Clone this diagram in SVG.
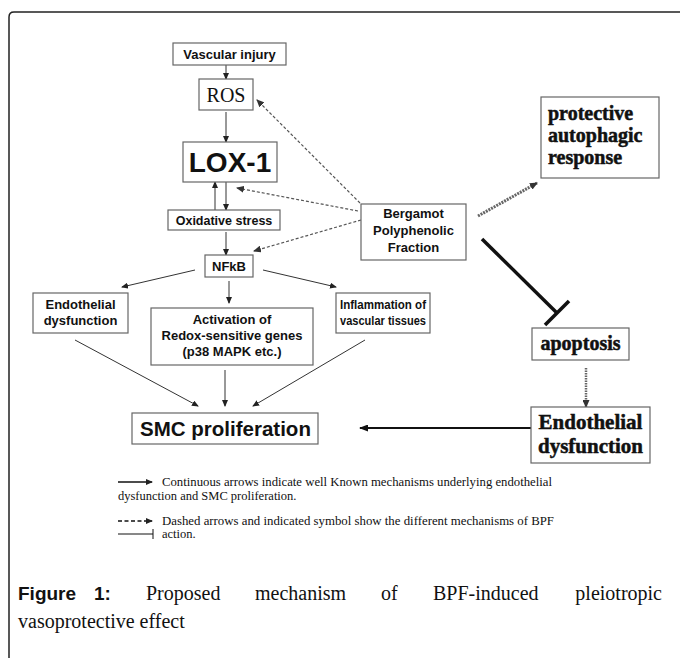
<svg xmlns="http://www.w3.org/2000/svg" width="680" height="658" viewBox="0 0 680 658">
<defs>
<style>
.box{fill:#fff;stroke:#666;stroke-width:1.2}
.sb{font-family:"Liberation Sans",Arial,sans-serif;font-weight:bold;font-size:13px;text-anchor:middle;fill:#111}
.tb{font-family:"Liberation Serif","Times New Roman",serif;font-weight:bold;fill:#111;stroke:#111;stroke-width:0.5}
.leg{font-family:"Liberation Serif","Times New Roman",serif;font-size:12.5px;fill:#111}
.cap{font-family:"Liberation Serif","Times New Roman",serif;font-size:20px;fill:#111}
.fig{font-family:"Liberation Sans",Arial,sans-serif;font-weight:bold;font-size:19px;fill:#111}
.sol{stroke:#333;stroke-width:1;fill:none}
.dsh{stroke:#555;stroke-width:1.2;stroke-dasharray:3 2;fill:none}
</style>
<marker id="ah" markerUnits="userSpaceOnUse" markerWidth="7" markerHeight="6" refX="6" refY="3" orient="auto"><path d="M0,0 L7,3 L0,6 z" fill="#222"/></marker>
<marker id="ahd" markerUnits="userSpaceOnUse" markerWidth="8" markerHeight="7" refX="7" refY="3.5" orient="auto"><path d="M0,0 L8,3.5 L0,7 z" fill="#333"/></marker>
<marker id="ahb" markerUnits="userSpaceOnUse" markerWidth="9" markerHeight="7" refX="8" refY="3.5" orient="auto"><path d="M0,0 L9,3.5 L0,7 z" fill="#111"/></marker>
</defs>
<rect width="680" height="658" fill="#fff"/>
<path d="M9,658 L9,17 Q9,12 14,12 L680,12" fill="none" stroke="#222" stroke-width="1.5"/>

<g id="connectors">
<line class="sol" x1="226" y1="65" x2="226" y2="79" marker-end="url(#ah)"/>
<line class="sol" x1="226" y1="112" x2="226" y2="142" marker-end="url(#ah)"/>
<line class="sol" x1="226" y1="182" x2="226" y2="210" marker-end="url(#ah)"/>
<line class="sol" x1="215" y1="210" x2="215" y2="182" marker-end="url(#ah)"/>
<line class="sol" x1="226" y1="232" x2="226" y2="255" marker-end="url(#ah)"/>
<line class="sol" x1="195" y1="270" x2="122" y2="287" marker-end="url(#ah)"/>
<line class="sol" x1="229" y1="281" x2="229" y2="303" marker-end="url(#ah)"/>
<line class="sol" x1="263" y1="270" x2="336" y2="287" marker-end="url(#ah)"/>
<line class="sol" x1="75" y1="340" x2="198" y2="406" marker-end="url(#ah)"/>
<line class="sol" x1="225" y1="370" x2="225" y2="406" marker-end="url(#ah)"/>
<line class="sol" x1="365" y1="340" x2="253" y2="406" marker-end="url(#ah)"/>
<line x1="531" y1="428" x2="360" y2="428" stroke="#111" stroke-width="2" marker-end="url(#ahb)"/>
<line class="dsh" x1="360" y1="203" x2="257" y2="100" marker-end="url(#ahd)"/>
<line class="dsh" x1="358" y1="211" x2="237" y2="188" marker-end="url(#ahd)"/>
<line class="dsh" x1="361" y1="220" x2="254" y2="251" marker-end="url(#ahd)"/>
<line x1="478" y1="216" x2="537" y2="183" stroke="#666" stroke-width="3" stroke-dasharray="2 1" marker-end="url(#ahd)"/>
<line x1="586" y1="368" x2="586" y2="407" stroke="#666" stroke-width="2.5" stroke-dasharray="1.5 1" marker-end="url(#ahd)"/>
<line x1="482" y1="239" x2="557" y2="313" stroke="#111" stroke-width="3.5"/>
<line x1="545" y1="325" x2="569" y2="301" stroke="#111" stroke-width="3.5"/>
</g>

<g id="vascular-injury"><rect class="box" x="173" y="43" width="113" height="22"/><text class="sb" x="229.5" y="58.5">Vascular injury</text></g>
<g id="ros"><rect class="box" x="199" y="79" width="54" height="31"/><text x="226" y="101.5" text-anchor="middle" font-family="Liberation Serif,'Times New Roman',serif" font-size="20" fill="#111">ROS</text></g>
<g id="lox1"><rect class="box" x="183" y="142" width="94" height="40"/><text class="sb" x="230" y="172" style="font-size:28px">LOX-1</text></g>
<g id="oxidative-stress"><rect class="box" x="168" y="210" width="112" height="20"/><text class="sb" x="224" y="224.5" style="font-size:12.5px">Oxidative stress</text></g>
<g id="nfkb"><rect class="box" x="205" y="255" width="48" height="22"/><text class="sb" x="229" y="270.5">NFkB</text></g>
<g id="endothelial-left"><rect class="box" x="33" y="293" width="95" height="40"/><text class="sb" x="80.5" y="308.5">Endothelial</text><text class="sb" x="80.5" y="325">dysfunction</text></g>
<g id="activation"><rect class="box" x="151" y="308" width="162" height="57"/><text class="sb" x="232" y="323.5">Activation of</text><text class="sb" x="232" y="340">Redox-sensitive genes</text><text class="sb" x="232" y="356">(p38 MAPK etc.)</text></g>
<g id="inflammation"><rect class="box" x="336" y="293" width="94" height="40"/><text class="sb" x="383" y="308.5" style="font-size:12.5px" textLength="86" lengthAdjust="spacingAndGlyphs">Inflammation of</text><text class="sb" x="383" y="325" style="font-size:12.5px" textLength="86" lengthAdjust="spacingAndGlyphs">vascular tissues</text></g>
<g id="smc"><rect class="box" x="132" y="413" width="186" height="31"/><text class="sb" x="225.5" y="435.5" style="font-size:20.5px">SMC proliferation</text></g>
<g id="bpf"><rect class="box" x="361" y="204" width="105" height="56"/><text class="sb" x="413.5" y="217.5">Bergamot</text><text class="sb" x="413.5" y="235">Polyphenolic</text><text class="sb" x="413.5" y="252">Fraction</text></g>
<g id="protective"><rect class="box" x="541" y="97" width="118" height="81" stroke="#555"/><text class="tb" x="548" y="120" font-size="20">protective</text><text class="tb" x="548" y="142" font-size="20">autophagic</text><text class="tb" x="548" y="164" font-size="20">response</text></g>
<g id="apoptosis"><rect class="box" x="532" y="328" width="97" height="32" stroke="#555"/><text class="tb" x="580.5" y="349.5" font-size="20" text-anchor="middle">apoptosis</text></g>
<g id="endothelial-right"><rect class="box" x="531" y="407" width="119" height="56" stroke="#555"/><text class="tb" x="590.5" y="428.5" font-size="21" text-anchor="middle">Endothelial</text><text class="tb" x="590.5" y="452.5" font-size="21" text-anchor="middle">dysfunction</text></g>

<g id="legend">
<line x1="118" y1="482" x2="152" y2="482" stroke="#111" stroke-width="1.3" marker-end="url(#ah)"/>
<text class="leg" x="162" y="486" textLength="390" lengthAdjust="spacingAndGlyphs">Continuous arrows indicate well Known mechanisms underlying endothelial</text>
<text class="leg" x="118" y="500">dysfunction and SMC proliferation.</text>
<line x1="118" y1="521" x2="152" y2="521" stroke="#111" stroke-width="1.3" stroke-dasharray="4 2.5" marker-end="url(#ah)"/>
<text class="leg" x="162" y="525" textLength="392" lengthAdjust="spacingAndGlyphs">Dashed arrows and indicated symbol show the different mechanisms of BPF</text>
<line x1="118" y1="534" x2="153" y2="534" stroke="#111" stroke-width="1"/>
<line x1="153" y1="529" x2="153" y2="539" stroke="#111" stroke-width="1"/>
<text class="leg" x="162" y="538">action.</text>
</g>

<g id="caption">
<text class="fig" x="18" y="600">Figure</text>
<text class="fig" x="94" y="600">1:</text>
<text class="cap" x="146" y="600">Proposed</text>
<text class="cap" x="255" y="600">mechanism</text>
<text class="cap" x="381" y="600">of</text>
<text class="cap" x="433" y="600">BPF-induced</text>
<text class="cap" x="662" y="600" text-anchor="end">pleiotropic</text>
<text class="cap" x="18" y="628">vasoprotective effect</text>
</g>
</svg>
